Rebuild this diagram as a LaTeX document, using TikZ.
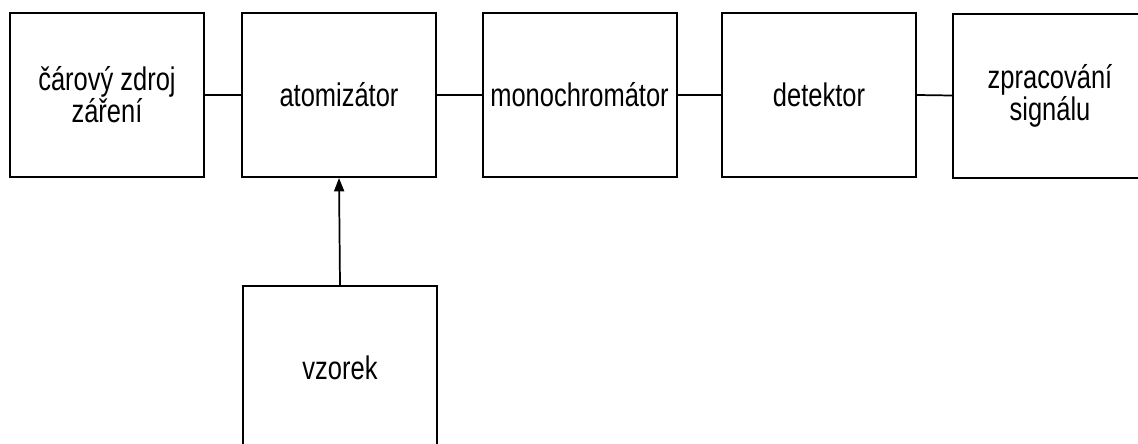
\documentclass[tikz,border=0pt]{standalone}
\usepackage{fontspec}
\setmainfont{Liberation Sans}
\newfontfamily\lblfont[FakeStretch=0.78]{Liberation Sans}
\usetikzlibrary{arrows.meta}
\begin{document}
\begin{tikzpicture}[x=0.75pt,y=-0.75pt,
  block/.style={draw,line width=1.5pt,minimum width=145.5pt,minimum height=123pt,
    inner sep=0pt,align=center,font=\lblfont\fontsize{24.5}{21.75}\selectfont},
  link/.style={line width=1.3pt},
  feed/.style={line width=1.3pt,-{Triangle[length=10pt,width=7.5pt]}}]
\useasboundingbox (0,0) rectangle (1138,443);
\clip (0,0) rectangle (1138,443);
\fill[white] (0,0) rectangle (1138,443);
% main chain of the spectrometer
\node[block] (zdroj) at (107,95) {čárový zdroj\\záření};
\node[block] (atom)  at (339,95) {atomizátor};
\node[block] (mono)  at (579.5,95) {monochromátor};
\node[block] (det)   at (819,95) {detektor};
\node[block] (zprac) at (1050,95.5) {zpracování\\signálu};
% sample input
\node[block] (vz) at (340,368) {vzorek};
\draw[link] (zdroj.east) -- (atom.west);
\draw[link] (atom.east) -- (mono.west);
\draw[link] (mono.east) -- (det.west);
\draw[link] (det.east) -- (zprac.west);
\draw[feed] (vz.north) -- (atom.south);
\end{tikzpicture}
\end{document}
